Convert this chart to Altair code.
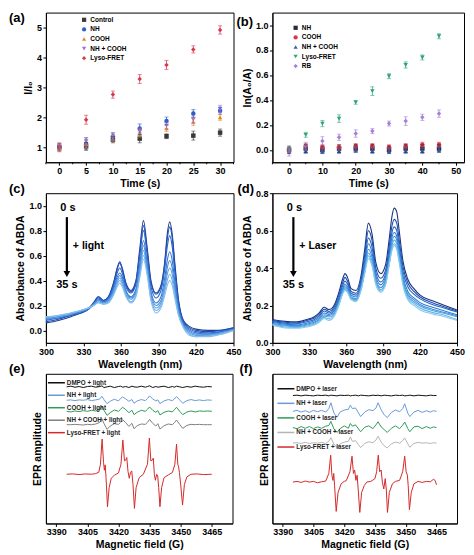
import altair as alt
import pandas as pd

FONT = "Liberation Sans"

# ---------------- (a) ----------------
A_TIME = [0, 5, 10, 15, 20, 25, 30]
A_MINOR = [-2.5, 2.5, 7.5, 12.5, 17.5, 22.5, 27.5, 32.5]
A_SERIES = ["Control", "NH", "COOH", "NH + COOH", "Lyso-FRET"]
A_CONTROL = [1.00, 1.03, 1.25, 1.29, 1.37, 1.39, 1.49]
A_NH = [1.00, 1.12, 1.37, 1.63, 1.88, 2.13, 2.22]
A_COOH = [1.00, 1.10, 1.30, 1.46, 1.63, 1.85, 2.00]
A_NHCOOH = [1.00, 1.20, 1.35, 1.52, 1.72, 1.93, 2.28]
A_LYSO = [1.00, 1.92, 2.76, 3.28, 3.75, 4.27, 4.92]
A_ERR_CONTROL = [0.12, 0.13, 0.10, 0.14, 0.08, 0.15, 0.12]
A_ERR_NH = [0.10, 0.20, 0.12, 0.15, 0.13, 0.13, 0.12]
A_ERR_COOH = [0.10, 0.12, 0.10, 0.12, 0.10, 0.12, 0.10]
A_ERR_NHCOOH = [0.10, 0.12, 0.12, 0.12, 0.10, 0.12, 0.12]
A_ERR_LYSO = [0.15, 0.15, 0.12, 0.15, 0.15, 0.12, 0.14]
A_COLORS = ["#3a3a3a", "#2f5fc4", "#e8871e", "#9a6fe0", "#d83a4a"]
A_SHAPES = ["square", "circle", "triangle-up", "triangle-down", "diamond"]

# ---------------- (b) ----------------
B_TIME = [0, 5, 10, 15, 20, 25, 30, 35, 40, 45]
B_TICKS = [0, 10, 20, 30, 40, 50]
B_MINOR = [-5, 5, 15, 25, 35, 45]
B_SERIES = ["NH", "COOH", "NH + COOH", "Lyso-FRET", "RB"]
B_NH = [0.00, 0.01, 0.00, 0.01, 0.01, 0.01, 0.00, 0.01, 0.01, 0.01]
B_COOH = [0.00, 0.03, 0.02, 0.02, 0.03, 0.03, 0.02, 0.03, 0.04, 0.04]
B_NHCOOH = [-0.01, -0.01, -0.01, -0.01, 0.00, -0.01, -0.01, -0.01, -0.01, 0.00]
B_LYSO = [0.00, 0.12, 0.21, 0.25, 0.38, 0.47, 0.59, 0.68, 0.74, 0.91]
B_RB = [-0.02, 0.03, 0.07, 0.10, 0.13, 0.15, 0.21, 0.23, 0.26, 0.29]
B_ERR_NH = [0.03, 0.03, 0.03, 0.03, 0.03, 0.03, 0.03, 0.03, 0.03, 0.03]
B_ERR_COOH = [0.02, 0.02, 0.02, 0.02, 0.02, 0.02, 0.02, 0.02, 0.02, 0.02]
B_ERR_NHCOOH = [0.02, 0.02, 0.02, 0.02, 0.02, 0.02, 0.02, 0.02, 0.02, 0.02]
B_ERR_LYSO = [0.02, 0.02, 0.025, 0.03, 0.015, 0.035, 0.02, 0.025, 0.02, 0.02]
B_ERR_RB = [0.03, 0.03, 0.035, 0.025, 0.03, 0.02, 0.02, 0.035, 0.025, 0.03]
B_COLORS = ["#2b2b3b", "#d9344a", "#3a5fb5", "#2ea57a", "#a77fd8"]
B_SHAPES = ["square", "circle", "triangle-up", "triangle-down", "diamond"]

# ---------------- (c) / (d) spectra ----------------
WL = [300, 310, 320, 328, 334, 338, 342, 346, 350, 354, 357, 359, 361, 364, 368, 372, 375,
      378, 381, 384, 388, 392, 395, 397, 399, 401, 403, 406, 410, 415, 420, 430, 440, 450]
SPEC_TIMES = ["0 s", "5 s", "10 s", "15 s", "20 s", "25 s", "30 s", "35 s"]
C_0 = [0.06, 0.08, 0.11, 0.14, 0.17, 0.22, 0.27, 0.24, 0.27, 0.38, 0.50, 0.55, 0.50, 0.38, 0.32, 0.40, 0.65, 0.88, 0.66, 0.40, 0.30, 0.36, 0.55, 0.77, 0.87, 0.77, 0.55, 0.25, 0.08, 0.03, 0.01, 0.00, 0.00, 0.02]
C_5 = [0.07, 0.09, 0.12, 0.14, 0.17, 0.22, 0.27, 0.24, 0.27, 0.37, 0.49, 0.54, 0.49, 0.37, 0.31, 0.39, 0.62, 0.84, 0.63, 0.38, 0.29, 0.35, 0.53, 0.73, 0.83, 0.74, 0.52, 0.23, 0.07, 0.02, 0.00, -0.01, 0.00, 0.02]
C_10 = [0.08, 0.10, 0.12, 0.15, 0.17, 0.21, 0.26, 0.23, 0.26, 0.35, 0.46, 0.50, 0.46, 0.35, 0.30, 0.37, 0.59, 0.80, 0.60, 0.35, 0.26, 0.32, 0.49, 0.67, 0.76, 0.67, 0.47, 0.21, 0.06, 0.01, -0.01, -0.02, -0.01, 0.01]
C_15 = [0.09, 0.10, 0.13, 0.15, 0.17, 0.21, 0.25, 0.23, 0.25, 0.33, 0.43, 0.46, 0.43, 0.32, 0.27, 0.33, 0.53, 0.72, 0.54, 0.31, 0.22, 0.27, 0.42, 0.56, 0.63, 0.56, 0.40, 0.18, 0.05, 0.00, -0.02, -0.03, -0.01, 0.01]
C_20 = [0.09, 0.11, 0.13, 0.15, 0.18, 0.21, 0.24, 0.22, 0.24, 0.32, 0.41, 0.44, 0.41, 0.31, 0.26, 0.31, 0.50, 0.68, 0.51, 0.29, 0.20, 0.24, 0.37, 0.50, 0.56, 0.50, 0.36, 0.16, 0.04, -0.01, -0.03, -0.03, -0.02, 0.01]
C_25 = [0.10, 0.11, 0.13, 0.16, 0.18, 0.20, 0.23, 0.22, 0.23, 0.30, 0.39, 0.42, 0.39, 0.29, 0.25, 0.30, 0.47, 0.64, 0.48, 0.27, 0.18, 0.22, 0.34, 0.45, 0.50, 0.45, 0.32, 0.14, 0.03, -0.02, -0.04, -0.04, -0.02, 0.00]
C_30 = [0.10, 0.12, 0.14, 0.16, 0.18, 0.20, 0.23, 0.21, 0.23, 0.29, 0.37, 0.40, 0.37, 0.28, 0.23, 0.28, 0.44, 0.60, 0.46, 0.25, 0.16, 0.20, 0.31, 0.40, 0.45, 0.40, 0.29, 0.13, 0.03, -0.03, -0.05, -0.04, -0.03, 0.00]
C_35 = [0.11, 0.12, 0.14, 0.16, 0.18, 0.20, 0.22, 0.21, 0.22, 0.28, 0.35, 0.38, 0.35, 0.27, 0.22, 0.27, 0.42, 0.57, 0.44, 0.24, 0.14, 0.18, 0.28, 0.36, 0.40, 0.36, 0.26, 0.12, 0.02, -0.04, -0.05, -0.05, -0.03, 0.00]
C_CURVES = [C_0, C_5, C_10, C_15, C_20, C_25, C_30, C_35]
C_COLORS = ["#1f3f94", "#2251b5", "#2a64c8", "#3578d4", "#468bdc", "#589ce2", "#6cade8", "#84bfee"]

D_0 = [0.125, 0.115, 0.112, 0.125, 0.14, 0.16, 0.19, 0.178, 0.20, 0.27, 0.34, 0.37, 0.35, 0.29, 0.28, 0.36, 0.50, 0.64, 0.58, 0.43, 0.37, 0.42, 0.56, 0.67, 0.72, 0.70, 0.60, 0.44, 0.34, 0.29, 0.255, 0.225, 0.20, 0.176]
D_5 = [0.12, 0.11, 0.107, 0.12, 0.133, 0.152, 0.18, 0.168, 0.19, 0.255, 0.32, 0.35, 0.33, 0.275, 0.265, 0.34, 0.47, 0.60, 0.545, 0.40, 0.345, 0.39, 0.52, 0.62, 0.66, 0.64, 0.55, 0.41, 0.32, 0.275, 0.245, 0.215, 0.192, 0.17]
D_10 = [0.115, 0.105, 0.102, 0.113, 0.125, 0.143, 0.17, 0.16, 0.18, 0.24, 0.305, 0.33, 0.315, 0.265, 0.255, 0.325, 0.44, 0.56, 0.51, 0.375, 0.325, 0.37, 0.49, 0.585, 0.62, 0.60, 0.52, 0.385, 0.30, 0.26, 0.235, 0.205, 0.185, 0.165]
D_15 = [0.11, 0.10, 0.097, 0.106, 0.118, 0.135, 0.16, 0.152, 0.17, 0.23, 0.29, 0.315, 0.30, 0.255, 0.245, 0.31, 0.415, 0.53, 0.48, 0.355, 0.31, 0.355, 0.47, 0.56, 0.59, 0.57, 0.49, 0.36, 0.275, 0.24, 0.215, 0.19, 0.17, 0.15]
D_20 = [0.105, 0.095, 0.092, 0.10, 0.11, 0.127, 0.15, 0.145, 0.16, 0.22, 0.28, 0.305, 0.29, 0.245, 0.235, 0.30, 0.40, 0.50, 0.455, 0.34, 0.295, 0.34, 0.45, 0.535, 0.57, 0.55, 0.47, 0.345, 0.26, 0.23, 0.205, 0.18, 0.162, 0.145]
D_25 = [0.10, 0.09, 0.087, 0.095, 0.105, 0.12, 0.143, 0.138, 0.153, 0.21, 0.27, 0.295, 0.28, 0.24, 0.23, 0.29, 0.385, 0.48, 0.435, 0.33, 0.285, 0.325, 0.435, 0.515, 0.55, 0.53, 0.455, 0.33, 0.25, 0.22, 0.197, 0.173, 0.157, 0.14]
D_30 = [0.098, 0.085, 0.082, 0.09, 0.10, 0.115, 0.136, 0.128, 0.146, 0.205, 0.265, 0.287, 0.275, 0.235, 0.225, 0.285, 0.377, 0.465, 0.42, 0.32, 0.277, 0.317, 0.425, 0.50, 0.53, 0.51, 0.44, 0.32, 0.24, 0.21, 0.186, 0.163, 0.148, 0.125]
D_35 = [0.095, 0.08, 0.078, 0.085, 0.095, 0.11, 0.13, 0.12, 0.14, 0.20, 0.26, 0.28, 0.27, 0.23, 0.22, 0.28, 0.37, 0.45, 0.41, 0.31, 0.27, 0.31, 0.42, 0.49, 0.52, 0.50, 0.43, 0.31, 0.23, 0.20, 0.176, 0.155, 0.14, 0.12]
D_CURVES = [D_0, D_5, D_10, D_15, D_20, D_25, D_30, D_35]
D_COLORS = ["#1a3380", "#1f4fae", "#2565c4", "#2f7bd2", "#3d8fdb", "#4fa3e2", "#66b6e8", "#86caef"]

# ---------------- (e) EPR, light ----------------
E_LABELS = ["DMPO + light", "NH + light", "COOH + light", "NH + COOH + light", "Lyso-FRET + light"]
E_COLORS = ["#111111", "#6a9ad8", "#2f9a5c", "#808080", "#d42a2a"]
E_OFFSETS = [2.61, 2.21, 1.88, 1.48, 0.0]
E_FIELD = [3395, 3397, 3399, 3401, 3403, 3405, 3407, 3409, 3411, 3412,
           3413, 3414.5, 3416, 3418, 3420, 3421, 3422, 3423.5, 3425, 3426.5,
           3427.5, 3429, 3431, 3433, 3434, 3435, 3436.5, 3438, 3439, 3440,
           3442, 3444, 3446, 3447, 3448, 3449.5, 3451, 3453, 3455, 3457,
           3459, 3461, 3463, 3465]
E_DMPO = [0.00, 0.02, -0.01, 0.01, -0.02, 0.01, 0.02, -0.01, 0.01, 0.03,
          -0.02, 0.00, 0.02, -0.02, 0.01, 0.02, -0.01, 0.01, -0.02, 0.02,
          0.00, -0.01, 0.02, -0.01, 0.01, 0.03, -0.02, 0.01, -0.01, 0.00,
          0.02, -0.02, 0.01, -0.01, 0.02, 0.00, -0.02, 0.01, -0.01, 0.02,
          0.00, -0.01, 0.01, 0.00]
E_NH = [0.00, 0.01, -0.01, 0.01, 0.00, 0.02, -0.01, 0.01, 0.04, 0.12,
        0.02, -0.10, -0.03, 0.03, -0.02, 0.05, 0.10, 0.04, -0.03, 0.02,
        -0.09, -0.02, 0.02, -0.01, 0.05, 0.13, 0.04, -0.02, 0.01, -0.10,
        -0.02, 0.02, -0.01, 0.04, 0.11, 0.01, -0.09, -0.01, 0.02, -0.01,
        0.01, -0.01, 0.01, 0.00]
E_COOH = [0.00, -0.02, 0.01, -0.01, 0.02, 0.00, 0.03, 0.01, 0.06, 0.15,
          0.03, -0.12, -0.04, 0.04, 0.00, 0.06, 0.12, 0.05, -0.04, 0.03,
          -0.10, -0.03, 0.03, 0.00, 0.06, 0.13, 0.03, -0.03, 0.02, -0.11,
          -0.03, 0.01, -0.02, 0.05, 0.12, 0.00, -0.10, -0.02, 0.01, -0.02,
          0.01, 0.00, 0.01, 0.00]
E_NHCOOH = [0.00, 0.00, 0.01, 0.00, -0.01, 0.01, 0.00, 0.02, 0.07, 0.18,
            0.04, -0.14, -0.04, 0.03, 0.01, 0.07, 0.15, 0.06, -0.05, 0.04,
            -0.12, -0.03, 0.02, 0.01, 0.07, 0.16, 0.04, -0.04, 0.03, -0.13,
            -0.03, 0.02, 0.00, 0.06, 0.14, 0.01, -0.11, -0.02, 0.01, 0.00,
            0.01, 0.00, 0.00, 0.00]
E_RED_FIELD = [3395, 3398, 3401, 3404, 3407, 3409, 3410.5, 3411.3, 3412.1, 3412.8,
               3413.2, 3413.6, 3414.0, 3414.7, 3415.5, 3416.5, 3418, 3420, 3421.2, 3422.1,
               3422.9, 3423.5, 3424.0, 3424.6, 3425.2, 3425.8, 3426.4, 3427.0, 3427.7, 3428.5,
               3430, 3432, 3434.0, 3434.9, 3435.6, 3436.3, 3436.8, 3437.3, 3437.8, 3438.4,
               3438.9, 3439.4, 3440.0, 3440.8, 3442, 3444, 3446, 3447.2, 3448.0, 3448.6,
               3449.0, 3449.4, 3450.0, 3450.9, 3451.8, 3453, 3455, 3458, 3461, 3465]
E_RED = [0.00, 0.01, -0.01, 0.01, 0.00, 0.02, 0.06, 0.30, 1.05, 0.35,
         0.12, 0.28, -0.10, -0.97, -0.40, -0.12, -0.03, 0.04, 0.30, 1.02,
         0.40, 0.42, 0.50, 0.08, -0.12, 0.05, 0.10, -0.30, -1.02, -0.40,
         -0.10, 0.00, 0.30, 1.08, 0.40, 0.42, 0.48, 0.00, -0.18, 0.00,
         -0.05, -0.40, -0.97, -0.40, -0.10, -0.02, 0.05, 0.30, 0.90, 0.30,
         0.22, 0.05, -0.30, -0.92, -0.30, -0.08, 0.00, 0.01, -0.01, 0.00]

# ---------------- (f) EPR, laser ----------------
F_LABELS = ["DMPO + laser", "NH + laser", "COOH + laser", "NH + COOH + laser", "Lyso-FRET + laser"]
F_COLORS = ["#111111", "#6a9ad8", "#2f9a5c", "#b5b5b5", "#d42a2a"]
F_OFFSETS = [2.51, 2.05, 1.58, 1.13, 0.0]
F_FIELD = [3395, 3397, 3399, 3401, 3403, 3405, 3407, 3409, 3411, 3412.5,
           3413.5, 3415, 3416.5, 3418, 3420, 3422, 3423, 3424, 3425.5, 3427,
           3428, 3430, 3432, 3434, 3435.5, 3436.5, 3438, 3439.5, 3441, 3443,
           3445, 3447, 3448.5, 3449.5, 3451, 3452, 3454, 3456, 3458, 3460,
           3462, 3463.5, 3465]
F_DMPO = [0.00, 0.01, -0.01, 0.01, 0.00, -0.01, 0.01, 0.00, 0.01, -0.01,
          0.01, 0.00, -0.01, 0.01, 0.00, 0.01, -0.01, 0.00, 0.01, -0.01,
          0.01, 0.00, -0.01, 0.01, 0.00, 0.01, -0.01, 0.01, 0.00, -0.01,
          0.01, 0.00, 0.01, -0.01, 0.00, 0.01, -0.01, 0.01, 0.00, -0.01,
          0.01, 0.00, 0.00]
F_NH = [0.00, 0.03, -0.02, 0.02, -0.03, 0.03, -0.01, 0.03, -0.02, 0.08,
        0.25, -0.05, -0.17, -0.02, 0.04, 0.06, 0.18, 0.08, 0.10, -0.05,
        -0.15, -0.02, 0.05, 0.02, 0.10, 0.25, 0.05, -0.10, -0.18, -0.03,
        0.04, -0.01, 0.08, 0.22, -0.05, -0.15, -0.02, 0.03, -0.03, 0.02,
        -0.02, 0.02, 0.00]
F_COOH = [0.00, -0.03, 0.03, -0.02, 0.03, -0.03, 0.02, -0.02, 0.04, 0.06,
          0.18, -0.04, -0.14, -0.03, 0.05, -0.02, 0.12, 0.04, 0.08, -0.04,
          -0.12, 0.01, 0.05, -0.03, 0.08, 0.17, 0.02, -0.06, -0.14, -0.02,
          0.05, -0.03, 0.07, 0.16, -0.03, -0.12, 0.02, 0.04, -0.03, 0.03,
          -0.02, 0.02, 0.00]
F_NHCOOH = [0.00, 0.01, -0.01, 0.02, -0.01, 0.01, 0.00, 0.02, -0.01, 0.05,
            0.16, -0.03, -0.13, -0.02, 0.03, 0.05, 0.18, 0.05, 0.07, -0.05,
            -0.13, -0.01, 0.04, 0.01, 0.09, 0.20, 0.03, -0.08, -0.14, -0.02,
            0.03, 0.00, 0.07, 0.15, -0.02, -0.12, -0.01, 0.02, 0.00, 0.01,
            -0.01, 0.01, 0.00]
F_RED_FIELD = [3395, 3397, 3399, 3401, 3403, 3405, 3407, 3409, 3411, 3412.5,
               3413.4, 3414.0, 3414.5, 3414.9, 3415.3, 3416.1, 3417, 3418.5, 3420, 3421,
               3422.8, 3423.8, 3424.5, 3425.1, 3425.7, 3426.3, 3426.8, 3427.6, 3428.5, 3429.8,
               3431, 3433, 3435, 3435.8, 3436.6, 3437.3, 3438, 3438.6, 3439.3, 3440,
               3440.5, 3441.1, 3442, 3443.5, 3445, 3447, 3448.5, 3449.5, 3450.2, 3450.8,
               3451.2, 3451.8, 3452.7, 3454, 3456, 3458, 3460, 3462, 3463.5, 3464.3,
               3465]
F_RED = [0.00, 0.02, -0.01, 0.03, 0.00, 0.02, -0.02, 0.01, 0.03, 0.25,
         0.78, 0.20, 0.05, 0.25, -0.10, -0.85, -0.30, -0.05, 0.02, 0.04,
         0.30, 0.75, 0.25, 0.35, 0.05, 0.20, -0.20, -0.88, -0.30, -0.10,
         0.00, 0.02, 0.10, 0.30, 0.78, 0.30, 0.35, 0.00, -0.20, 0.10,
         -0.20, -0.88, -0.30, -0.05, 0.02, 0.05, 0.30, 0.75, 0.30, 0.20,
         -0.10, -0.80, -0.30, -0.05, 0.02, -0.01, 0.02, 0.01, 0.08, 0.05,
         -0.08]

EPR_TICKS = [3390, 3405, 3420, 3435, 3450, 3465]
ONE = pd.DataFrame({"k": [0]})


def panel_label(text, dx, dy):
    return alt.Chart(ONE).mark_text(text=text, align="left", baseline="middle", fontSize=13,
                                    fontWeight="bold", font=FONT, color="black").encode(
        x=alt.value(dx), y=alt.value(dy))


def scatter_panel(key, series, values, errors, times, colors, shapes, xdom, xticks, xminor,
                  ydom, yticks, yfmt, ytitle, w, h, legx, legy, label, ldx, ldy):
    rows = []
    for s, vals, errs in zip(series, values, errors):
        for t, v, e in zip(times, vals, errs):
            rows.append({key: s, "t": t, "v": v, "lo": v - e, "hi": v + e})
    df = pd.DataFrame(rows)
    xs = alt.Scale(domain=xdom, nice=False, zero=False)
    ys = alt.Scale(domain=ydom, nice=False, zero=False)
    xa = alt.Axis(values=xticks, format="d", title="Time (s)", labelFlush=False)
    ya = alt.Axis(values=yticks, format=yfmt, title=ytitle)
    leg = alt.Legend(orient="none", legendX=legx, legendY=legy, title=None, labelFontSize=6.5,
                     labelFont=FONT, labelFontWeight="bold", symbolSize=18, rowPadding=2.6,
                     padding=0, labelOffset=3, symbolStrokeWidth=0, symbolOpacity=1)
    cs = alt.Scale(domain=series, range=colors)
    ss = alt.Scale(domain=series, range=shapes)
    col = alt.Color(f"{key}:N", scale=cs, legend=leg)
    shp = alt.Shape(f"{key}:N", scale=ss, legend=leg)
    pts = alt.Chart(df).mark_point(filled=True, size=20, opacity=1).encode(
        x=alt.X("t:Q", scale=xs, axis=xa), y=alt.Y("v:Q", scale=ys, axis=ya),
        color=col, shape=shp)
    err = alt.Chart(df).mark_rule(strokeWidth=0.8).encode(
        x=alt.X("t:Q", scale=xs, axis=xa), y=alt.Y("lo:Q", scale=ys, axis=ya), y2="hi:Q",
        color=col)
    cap_lo = alt.Chart(df).mark_point(shape="stroke", size=16, strokeWidth=0.8).encode(
        x=alt.X("t:Q", scale=xs, axis=xa), y=alt.Y("lo:Q", scale=ys, axis=ya), color=col)
    cap_hi = alt.Chart(df).mark_point(shape="stroke", size=16, strokeWidth=0.8).encode(
        x=alt.X("t:Q", scale=xs, axis=xa), y=alt.Y("hi:Q", scale=ys, axis=ya), color=col)
    minor = alt.Chart(pd.DataFrame({"t": xminor})).mark_rule(color="black", strokeWidth=1).encode(
        x=alt.X("t:Q", scale=xs, axis=xa), y=alt.value(h), y2=alt.value(h + 2))
    return alt.layer(pts, err, cap_lo, cap_hi, minor, panel_label(label, ldx, ldy)).properties(width=w, height=h)


def spectra_panel(key, curves, colors, ydom, yticks, note, label, w, h, ldx, ldy):
    rows = []
    for i, vals in enumerate(curves):
        for wl, v in zip(WL, vals):
            rows.append({key: SPEC_TIMES[i], "wl": wl, "a": v})
    df = pd.DataFrame(rows)
    lines = alt.Chart(df).mark_line(strokeWidth=1.1, interpolate="monotone").encode(
        x=alt.X("wl:Q", scale=alt.Scale(domain=[300, 450], nice=False, zero=False),
                axis=alt.Axis(values=[300, 330, 360, 390, 420, 450], format="d",
                              title="Wavelength (nm)", labelFlush=False)),
        y=alt.Y("a:Q", scale=alt.Scale(domain=ydom, nice=False, zero=False),
                axis=alt.Axis(values=yticks, format=".1f", title="Absorbance of ABDA")),
        color=alt.Color(f"{key}:N", scale=alt.Scale(domain=SPEC_TIMES, range=colors), legend=None))
    t0 = alt.Chart(ONE).mark_text(text="0 s", fontSize=11, fontWeight="bold", font=FONT,
                                  align="center", baseline="middle").encode(x=alt.value(22), y=alt.value(15))
    t1 = alt.Chart(ONE).mark_text(text=note, fontSize=10.5, fontWeight="bold", font=FONT,
                                  align="left", baseline="middle").encode(x=alt.value(27), y=alt.value(53))
    t2 = alt.Chart(ONE).mark_text(text="35 s", fontSize=11, fontWeight="bold", font=FONT,
                                  align="center", baseline="middle").encode(x=alt.value(21), y=alt.value(92))
    shaft = alt.Chart(ONE).mark_rule(strokeWidth=2.2, color="black").encode(
        x=alt.value(21), y=alt.value(24), y2=alt.value(80))
    head = alt.Chart(ONE).mark_point(shape="triangle-down", filled=True, size=45, color="black",
                                     opacity=1).encode(x=alt.value(21), y=alt.value(81))
    return alt.layer(lines, t0, t1, t2, shaft, head, panel_label(label, ldx, ldy)).properties(width=w, height=h)


def epr_panel(key, labels, colors, offsets, field, traces, red_field, red, ydom, w, h,
              leg_x0, leg_x1, leg_tx, leg_y0, leg_dy, label, ldx, ldy):
    rows = []
    for lab, off, tr in zip(labels[:4], offsets[:4], traces):
        for g, a in zip(field, tr):
            rows.append({key: lab, "g": g, "y": a + off})
    for g, a in zip(red_field, red):
        rows.append({key: labels[4], "g": g, "y": a + offsets[4]})
    df = pd.DataFrame(rows)
    lines = alt.Chart(df).mark_line(strokeWidth=1).encode(
        x=alt.X("g:Q", scale=alt.Scale(domain=[3385, 3475], nice=False, zero=False),
                axis=alt.Axis(values=EPR_TICKS, format="d", title="Magnetic field (G)", labelFlush=False)),
        y=alt.Y("y:Q", scale=alt.Scale(domain=ydom, nice=False, zero=False),
                axis=alt.Axis(title="EPR amplitude", labels=False, ticks=False)),
        color=alt.Color(f"{key}:N", scale=alt.Scale(domain=labels, range=colors), legend=None))
    layers = [lines]
    for i, (lab, col) in enumerate(zip(labels, colors)):
        yy = leg_y0 + i * leg_dy
        layers.append(alt.Chart(ONE).mark_rule(strokeWidth=1.5, color=col).encode(
            x=alt.value(leg_x0), x2=alt.value(leg_x1), y=alt.value(yy)))
        layers.append(alt.Chart(ONE).mark_text(text=lab, fontSize=6.3, fontWeight="bold", font=FONT,
                                               color="#222222", align="left", baseline="middle").encode(
            x=alt.value(leg_tx), y=alt.value(yy)))
    layers.append(panel_label(label, ldx, ldy))
    return alt.layer(*layers).properties(width=w, height=h)


pa = scatter_panel("sa", A_SERIES, [A_CONTROL, A_NH, A_COOH, A_NHCOOH, A_LYSO],
                   [A_ERR_CONTROL, A_ERR_NH, A_ERR_COOH, A_ERR_NHCOOH, A_ERR_LYSO], A_TIME,
                   A_COLORS, A_SHAPES, [-2.5, 32.5], A_TIME, A_MINOR, [0.5, 5.5], [1, 2, 3, 4, 5], "d",
                   "I/I₀", 188, 150, 35, 4, "(a)", -37, 5)
pb = scatter_panel("sb", B_SERIES, [B_NH, B_COOH, B_NHCOOH, B_LYSO, B_RB],
                   [B_ERR_NH, B_ERR_COOH, B_ERR_NHCOOH, B_ERR_LYSO, B_ERR_RB], B_TIME,
                   B_COLORS, B_SHAPES, [-5, 52.5], B_TICKS, B_MINOR, [-0.1, 1.1],
                   [0, 0.2, 0.4, 0.6, 0.8, 1.0], ".1f", "ln(A₀/A)", 192, 150, 20, 12, "(b)", -36, 9)
pc = spectra_panel("cc", C_CURVES, C_COLORS, [-0.1, 1.1], [0, 0.2, 0.4, 0.6, 0.8, 1.0], "+ light",
                   "(c)", 188, 150, -37, -4)
pd_ = spectra_panel("cd", D_CURVES, D_COLORS, [0, 0.8], [0, 0.2, 0.4, 0.6, 0.8], "+ Laser",
                    "(d)", 185, 150, -35, -4)
pe = epr_panel("te", E_LABELS, E_COLORS, E_OFFSETS, E_FIELD, [E_DMPO, E_NH, E_COOH, E_NHCOOH],
               E_RED_FIELD, E_RED, [-1.47, 3.0], 187, 150, 2, 19, 21, 9, 12.5, "(e)", -37, -5)
pf = epr_panel("tf", F_LABELS, F_COLORS, F_OFFSETS, F_FIELD, [F_DMPO, F_NH, F_COOH, F_NHCOOH],
               F_RED_FIELD, F_RED, [-1.2, 3.14], 185, 150, 5, 22, 24, 15, 14.6, "(f)", -33, -5)

chart = alt.concat(pa, pb, pc, pd_, pe, pf, columns=2, spacing={"row": 31, "column": 39},
                   bounds="flush").resolve_scale(
    color="independent", shape="independent").resolve_legend(
    color="independent", shape="independent").properties(
    padding={"left": 0, "top": 2, "right": 0, "bottom": 0}
).configure_axis(
    labelFont=FONT, titleFont=FONT, labelFontSize=9, titleFontSize=10.5,
    labelFontWeight="bold", titleFontWeight="bold", labelColor="black", titleColor="black",
    tickColor="black", domainColor="black", tickSize=3, grid=False, labelPadding=1.5, titlePadding=3
).configure_view(stroke="black", strokeWidth=1)

chart.save("out.html", embed_options={"renderer": "svg", "actions": False})
